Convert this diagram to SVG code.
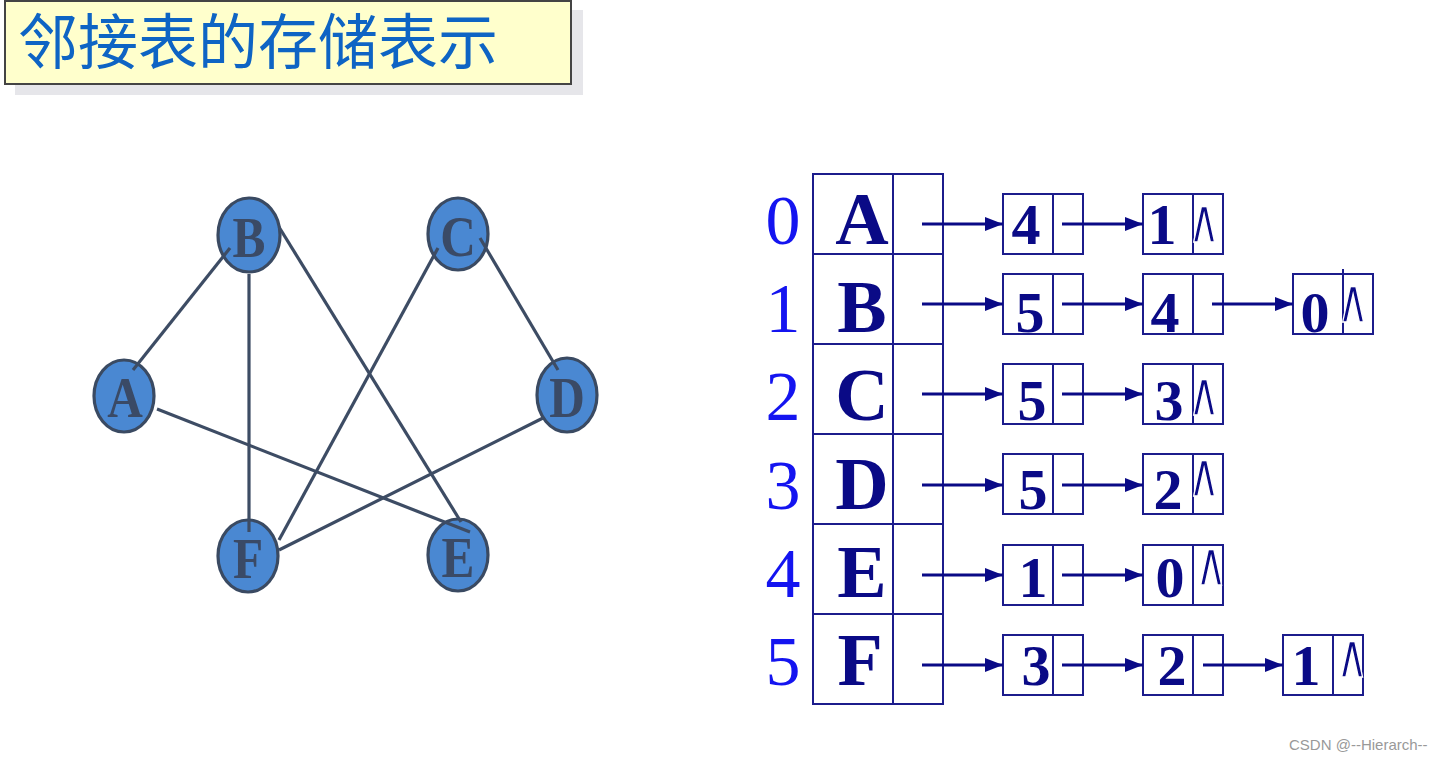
<svg xmlns="http://www.w3.org/2000/svg" width="1454" height="760" viewBox="0 0 1454 760">
<style>
.node ellipse{fill:#4a88d2;stroke:#3a4a62;stroke-width:3.2}
.node text{font-family:"Liberation Serif",serif;font-weight:bold;font-size:58px;fill:#3a4a66;text-anchor:middle}
.edge{stroke:#3d4c64;stroke-width:3.2;fill:none}
.cell{fill:#fff;stroke:#1c1c8c;stroke-width:2}
.idx{font-family:"Liberation Serif",serif;font-size:70px;fill:#1414f0;text-anchor:middle}
.vx{font-family:"Liberation Serif",serif;font-weight:bold;font-size:74px;fill:#0a0a86;text-anchor:middle}
.num{font-family:"Liberation Serif",serif;font-weight:bold;font-size:58px;fill:#0a0a86;text-anchor:middle}
.nul{font-family:"DejaVu Sans",sans-serif;font-size:44px;fill:#0a0a86;stroke:#fff;stroke-width:1.2;text-anchor:middle}
.arr{stroke:#0a0a86;stroke-width:3;fill:none;marker-end:url(#ah)}
</style>
<defs>
<marker id="ah" markerUnits="userSpaceOnUse" markerWidth="18" markerHeight="14" refX="18" refY="7" orient="auto">
<path d="M0,0 L18,7 L0,14 Z" fill="#0a0a86"/>
</marker>
</defs>
<rect width="1454" height="760" fill="#fff"/>
<g id="title">
<rect x="15" y="10" width="568" height="85" fill="#e6e6ea"/>
<rect x="5" y="1" width="566" height="83" fill="#ffffcc" stroke="#444" stroke-width="2"/>
<text x="18" y="64" font-family="'Noto Sans CJK SC',sans-serif" font-size="60" fill="#0e64c4">邻接表的存储表示</text>
</g>
<g id="node-A" class="node"><ellipse cx="124" cy="396" rx="30" ry="36"/><text transform="translate(125,417) scale(0.85,1)">A</text></g>
<g id="node-B" class="node"><ellipse cx="249" cy="235" rx="31" ry="37"/><text transform="translate(249,257) scale(0.85,1)">B</text></g>
<g id="node-C" class="node"><ellipse cx="458" cy="234" rx="30" ry="36"/><text transform="translate(458,256) scale(0.85,1)">C</text></g>
<g id="node-D" class="node"><ellipse cx="567" cy="395" rx="30" ry="37"/><text transform="translate(567,417) scale(0.85,1)">D</text></g>
<g id="node-F" class="node"><ellipse cx="248" cy="556" rx="30" ry="36"/><text transform="translate(248,578) scale(0.85,1)">F</text></g>
<g id="node-E" class="node"><ellipse cx="458" cy="555" rx="30" ry="36"/><text transform="translate(458,577) scale(0.85,1)">E</text></g>
<g id="edges">
<line class="edge" x1="230" y1="248" x2="133" y2="370"/>
<line class="edge" x1="249" y1="274" x2="249" y2="532"/>
<line class="edge" x1="279" y1="227" x2="461" y2="522"/>
<line class="edge" x1="438" y1="248" x2="279" y2="540"/>
<line class="edge" x1="480" y1="238" x2="558" y2="370"/>
<line class="edge" x1="157" y1="409" x2="470" y2="532"/>
<line class="edge" x1="543" y1="418" x2="279" y2="550"/>
</g>
<g id="table">
<rect class="cell" x="813" y="174" width="80" height="80"/><rect class="cell" x="893" y="174" width="50" height="80"/>
<rect class="cell" x="813" y="254" width="80" height="90"/><rect class="cell" x="893" y="254" width="50" height="90"/>
<rect class="cell" x="813" y="344" width="80" height="90"/><rect class="cell" x="893" y="344" width="50" height="90"/>
<rect class="cell" x="813" y="434" width="80" height="90"/><rect class="cell" x="893" y="434" width="50" height="90"/>
<rect class="cell" x="813" y="524" width="80" height="90"/><rect class="cell" x="893" y="524" width="50" height="90"/>
<rect class="cell" x="813" y="614" width="80" height="90"/><rect class="cell" x="893" y="614" width="50" height="90"/>
<text class="idx" x="783" y="244">0</text>
<text class="idx" x="783" y="332">1</text>
<text class="idx" x="783" y="420">2</text>
<text class="idx" x="783" y="509">3</text>
<text class="idx" x="783" y="597">4</text>
<text class="idx" x="783" y="685">5</text>
<text class="vx" x="862" y="244">A</text>
<text class="vx" x="862" y="332">B</text>
<text class="vx" x="862" y="420">C</text>
<text class="vx" x="862" y="509">D</text>
<text class="vx" x="862" y="597">E</text>
<text class="vx" x="860" y="685">F</text>
</g>
<g id="list-0">
<rect class="cell" x="1003" y="194" width="50" height="60"/><rect class="cell" x="1053" y="194" width="30" height="60"/>
<text class="num" x="1026" y="244">4</text>
<rect class="cell" x="1143" y="194" width="50" height="60"/><rect class="cell" x="1193" y="194" width="30" height="60"/>
<text class="num" x="1162" y="244">1</text>
<text class="nul" transform="translate(1204,242) scale(1,1.4)">∧</text>
</g>
<g id="list-1">
<rect class="cell" x="1003" y="274" width="50" height="60"/><rect class="cell" x="1053" y="274" width="30" height="60"/>
<text class="num" x="1030" y="332">5</text>
<rect class="cell" x="1143" y="274" width="50" height="60"/><rect class="cell" x="1193" y="274" width="30" height="60"/>
<text class="num" x="1165" y="332">4</text>
<rect class="cell" x="1293" y="274" width="50" height="60"/><rect class="cell" x="1343" y="274" width="30" height="60"/>
<line x1="1343" y1="269" x2="1343" y2="274" stroke="#1c1c8c" stroke-width="2"/>
<text class="num" x="1315" y="332">0</text>
<text class="nul" transform="translate(1353,322) scale(1,1.4)">∧</text>
</g>
<g id="list-2">
<rect class="cell" x="1003" y="364" width="50" height="60"/><rect class="cell" x="1053" y="364" width="30" height="60"/>
<text class="num" x="1032" y="420">5</text>
<rect class="cell" x="1143" y="364" width="50" height="60"/><rect class="cell" x="1193" y="364" width="30" height="60"/>
<text class="num" x="1169" y="420">3</text>
<text class="nul" transform="translate(1204,415) scale(1,1.4)">∧</text>
</g>
<g id="list-3">
<rect class="cell" x="1003" y="454" width="50" height="60"/><rect class="cell" x="1053" y="454" width="30" height="60"/>
<text class="num" x="1033" y="509">5</text>
<rect class="cell" x="1143" y="454" width="50" height="60"/><rect class="cell" x="1193" y="454" width="30" height="60"/>
<text class="num" x="1168" y="509">2</text>
<text class="nul" transform="translate(1204,496) scale(1,1.4)">∧</text>
</g>
<g id="list-4">
<rect class="cell" x="1003" y="545" width="50" height="60"/><rect class="cell" x="1053" y="545" width="30" height="60"/>
<text class="num" x="1033" y="597">1</text>
<rect class="cell" x="1143" y="545" width="50" height="60"/><rect class="cell" x="1193" y="545" width="30" height="60"/>
<text class="num" x="1170" y="597">0</text>
<text class="nul" transform="translate(1211,585) scale(1,1.4)">∧</text>
</g>
<g id="list-5">
<rect class="cell" x="1003" y="635" width="50" height="60"/><rect class="cell" x="1053" y="635" width="30" height="60"/>
<text class="num" x="1036" y="685">3</text>
<rect class="cell" x="1143" y="635" width="50" height="60"/><rect class="cell" x="1193" y="635" width="30" height="60"/>
<text class="num" x="1172" y="685">2</text>
<rect class="cell" x="1283" y="635" width="50" height="60"/><rect class="cell" x="1333" y="635" width="30" height="60"/>
<text class="num" x="1306" y="685">1</text>
<text class="nul" transform="translate(1352,677) scale(1,1.4)">∧</text>
</g>
<g id="pointers">
<line class="arr" x1="922" y1="224" x2="1003" y2="224"/>
<line class="arr" x1="1062" y1="224" x2="1143" y2="224"/>
<line class="arr" x1="922" y1="304" x2="1003" y2="304"/>
<line class="arr" x1="1062" y1="304" x2="1143" y2="304"/>
<line class="arr" x1="1212" y1="304" x2="1293" y2="304"/>
<line class="arr" x1="922" y1="394" x2="1003" y2="394"/>
<line class="arr" x1="1062" y1="394" x2="1143" y2="394"/>
<line class="arr" x1="922" y1="485" x2="1003" y2="485"/>
<line class="arr" x1="1062" y1="485" x2="1143" y2="485"/>
<line class="arr" x1="922" y1="575" x2="1003" y2="575"/>
<line class="arr" x1="1062" y1="575" x2="1143" y2="575"/>
<line class="arr" x1="922" y1="665" x2="1003" y2="665"/>
<line class="arr" x1="1062" y1="665" x2="1143" y2="665"/>
<line class="arr" x1="1203" y1="665" x2="1283" y2="665"/>
</g>
<text x="1289" y="750" font-family="'Liberation Sans',sans-serif" font-size="15" fill="#999">CSDN @--Hierarch--</text>
</svg>
